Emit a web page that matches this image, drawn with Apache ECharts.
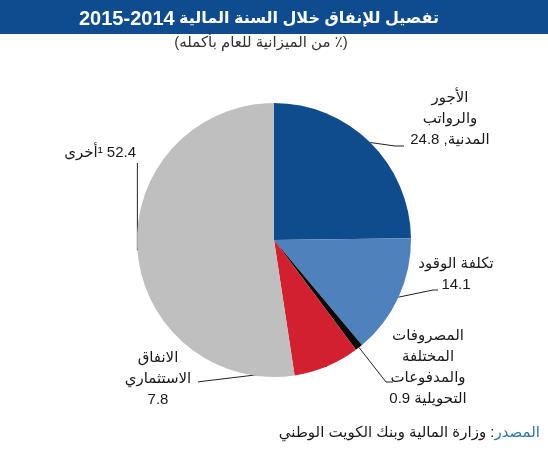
<!DOCTYPE html>
<html>
<head>
<meta charset="utf-8">
<script src="https://cdn.jsdelivr.net/npm/echarts@6/dist/echarts.min.js"></script>
<style>
html,body{margin:0;padding:0;background:#fff}
#chart{width:548px;height:450px}
</style>
</head>
<body>
<div id="chart"></div>
<script>
// texts (canvas draws left-to-right, so mixed lines are written in visual order)
const titleYears = '2015-2014'
const titleWords = ' تفصيل للإنفاق خلال السنة المالية'
const subTitle = '(من الميزانية للعام بأكمله ٪)'
const sourceHead = 'المصدر'
const sourceBody = 'وزارة المالية وبنك الكويت الوطني'

// data
const names = ['الأجور\nوالرواتب\nالمدنية', 'تكلفة الوقود', 'المصروفات\nالمختلفة\nوالمدفوعات\nالتحويلية', 'الانفاق\nالاستثماري', 'أخرى']
const values = [24.8, 14.1, 0.9, 7.8, 52.4]
const colors = ['#0f4c8e', '#4f81bd', '#0a0a0a', '#d2202f', '#bfbfbf']

// where each label sits, and the bends of its leader line
const labelPos = [[450, 119, 'center'], [456, 274, 'center'], [428, 367, 'center'], [158, 379, 'center'], [136, 153, 'right']]
const lineBends = [
  [[395, 146], [404, 146]],
  [[433, 290], [438, 290]],
  [[386, 382], [393, 382]],
  [[205, 381], [198, 382]],
  null
]

const font = 'Liberation Sans, Arial, DejaVu Sans, sans-serif'
const LRM = '\u200E'

function labelText(p) {
  const v = p.value.toFixed(1)
  const lines = p.name.split('\n')
  const last = lines.length - 1
  if (p.dataIndex == 0) lines[last] = v + ' ,' + lines[last]          // 24.8 ,المدنية
  else if (p.dataIndex == 2) lines[last] = v + ' ' + lines[last]      // 0.9 التحويلية
  else if (p.dataIndex == 4) lines[last] = lines[last] + LRM + '¹ ' + v  // أخرى¹ 52.4
  else lines.push(v)
  return lines.join('\n')
}

let myChart = echarts.init(document.getElementById('chart'))
myChart.setOption({
  animation: false,
  color: colors,
  graphic: [
    { type: 'rect', shape: { x: 0, y: 0, width: 548, height: 34 }, style: { fill: '#0f4c8f' } },
    { type: 'text', x: 259, y: 19, style: {
        text: '{d|' + titleYears + '}{a|' + titleWords + '}',
        align: 'center', verticalAlign: 'middle',
        rich: {
          d: { fill: '#fff', fontSize: 20, fontWeight: 'bold', fontFamily: font },
          a: { fill: '#fff', fontSize: 16, fontWeight: 'bold', fontFamily: font }
        }
    } },
    { type: 'text', x: 261, y: 43, style: { text: subTitle, fill: '#333', fontSize: 15, fontFamily: font, align: 'center', verticalAlign: 'middle' } },
    { type: 'text', x: 540, y: 433, style: {
        text: '{b|' + sourceBody + '}{b| :}{a|' + sourceHead + '}',
        align: 'right', verticalAlign: 'middle',
        rich: {
          a: { fill: '#2e74b5', fontSize: 15, fontFamily: font },
          b: { fill: '#1a1a1a', fontSize: 15, fontFamily: font }
        }
    } }
  ],
  series: [{
    type: 'pie',
    center: [274, 240],
    radius: 137,
    startAngle: 90,
    clockwise: true,
    avoidLabelOverlap: false,
    itemStyle: { borderWidth: 0 },
    label: {
      show: true,
      position: 'outside',
      formatter: labelText,
      color: '#1a1a1a',
      fontSize: 15,
      lineHeight: 21,
      fontFamily: font
    },
    labelLine: { show: true, lineStyle: { color: '#222', width: 1 } },
    labelLayout: function (p) {
      const i = p.dataIndex
      const pos = labelPos[i]
      const start = p.labelLinePoints ? p.labelLinePoints[0] : [0, 0]
      let pts
      if (lineBends[i]) pts = [start].concat(lineBends[i])
      else pts = [start, [start[0], 200], [start[0], 163]]
      return { x: pos[0], y: pos[1], align: pos[2], verticalAlign: 'middle', labelLinePoints: pts }
    },
    emphasis: { disabled: true },
    data: names.map((n, i) => ({ name: n, value: values[i] }))
  }]
})
</script>
</body>
</html>
